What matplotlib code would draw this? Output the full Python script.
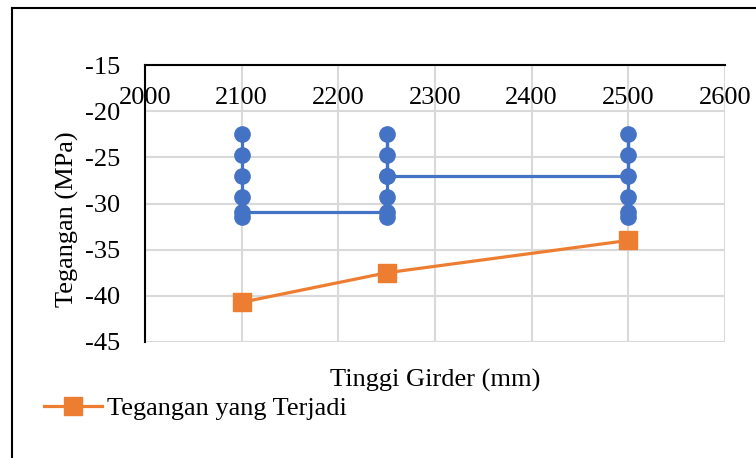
import matplotlib
matplotlib.use("Agg")
import matplotlib.pyplot as plt
from matplotlib.lines import Line2D

plt.rcParams['font.family'] = ['Liberation Serif', 'DejaVu Serif']
plt.rcParams['axes.unicode_minus'] = False

# Allowable stress envelope (blue) traced along girder heights
blue_x = [2100, 2100, 2100, 2100, 2100, 2100,
          2250, 2250, 2250, 2250, 2250, 2250, 2250,
          2500, 2500, 2500, 2500, 2500, 2500]
blue_y = [-22.5, -24.8, -27.0, -29.3, -31.5, -30.9,
          -30.9, -31.5, -29.3, -27.0, -24.8, -22.5, -27.0,
          -27.0, -22.5, -24.8, -29.3, -30.9, -31.5]

# Stress occurring in the girder
girder_height = [2100, 2250, 2500]
stress_actual = [-40.7, -37.5, -34.0]

x_ticks = [2000, 2100, 2200, 2300, 2400, 2500, 2600]
y_ticks = [-45, -40, -35, -30, -25, -20, -15]

blue = '#4472C4'
orange = '#ED7D31'
fs = 19

fig = plt.figure(figsize=(7.56, 4.58), dpi=100)
ax = fig.add_axes([145/756, 1-342/458, (725-145)/756, (342-65)/458])

ax.plot(blue_x, blue_y, color=blue, lw=2.3, marker='o', ms=11,
        mfc=blue, mec=blue, solid_joinstyle='miter', zorder=3)
ax.plot(girder_height, stress_actual, color=orange, lw=2.3, marker='s',
        ms=13, mfc=orange, mec=orange, zorder=4,
        label='Tegangan yang Terjadi')

ax.set_xlim(2000, 2600)
ax.set_ylim(-45, -15)
ax.set_xticks(x_ticks)
ax.set_yticks(y_ticks)
ax.grid(True, color='#d9d9d9', lw=1.5)
ax.set_axisbelow(True)

for s in ['bottom', 'right']:
    ax.spines[s].set_visible(False)
for s in ['top', 'left']:
    ax.spines[s].set_color('black')
    ax.spines[s].set_linewidth(1.5)

ax.xaxis.set_ticks_position('top')
ax.tick_params(axis='x', length=0, labelsize=fs, pad=-32, labeltop=True,
               labelbottom=False)
ax.tick_params(axis='y', length=0, labelsize=fs, pad=18)

ax.set_ylabel('Tegangan (MPa)', fontsize=fs)
ax.yaxis.set_label_coords(-0.113, 0.442)
fig.text((330+541)/2/756, 1-380/458, 'Tinggi Girder (mm)', fontsize=fs,
         ha='center', va='center')

fig.legend(loc='center left', bbox_to_anchor=(44/756, 1-408/458),
           frameon=False, fontsize=fs, handlelength=2.2, handletextpad=0.2,
           borderaxespad=0, borderpad=0)

# Outer chart frame (top and left edges)
fig.add_artist(Line2D([12/756, 1], [1-8/458, 1-8/458], color='black', lw=1.5,
                      transform=fig.transFigure))
fig.add_artist(Line2D([12/756, 12/756], [0, 1-8/458], color='black', lw=1.5,
                      transform=fig.transFigure))

fig.savefig('out.png', dpi=100)
